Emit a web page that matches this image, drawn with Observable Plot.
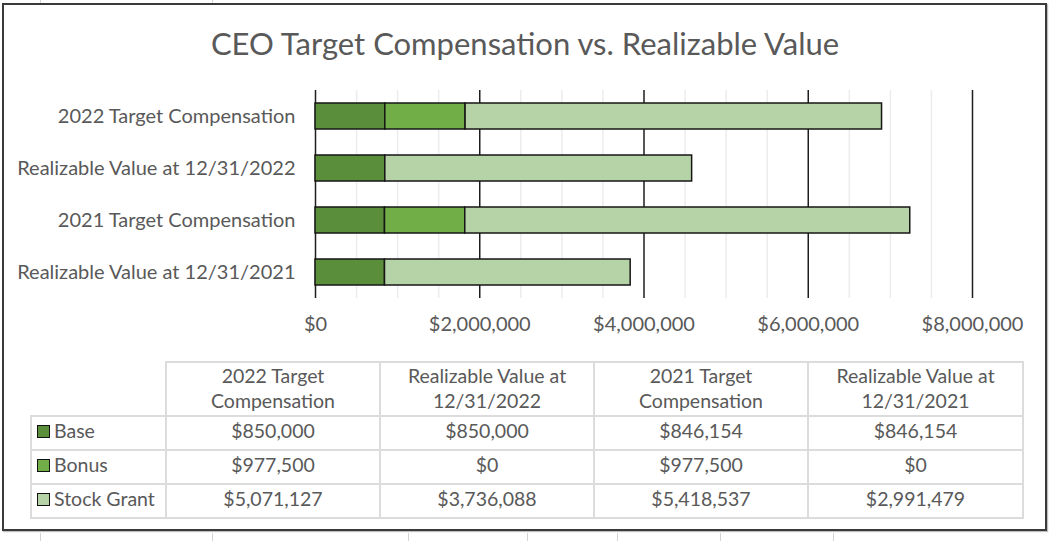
<!DOCTYPE html>
<html>
<head>
<meta charset="utf-8">
<script src="https://cdn.jsdelivr.net/npm/d3@7"></script>
<script src="https://cdn.jsdelivr.net/npm/@observablehq/plot@0.6"></script>
<style>
  html, body { margin: 0; padding: 0; background: #fff; }
  #wrap { position: relative; width: 1050px; height: 541px; overflow: hidden; font-family: Lato, "Open Sans", sans-serif; color: #595959; }
  #frame { position: absolute; left: 2px; top: 3px; width: 1041px; height: 524px; border: 2px solid #3a3a3a; box-shadow: 1px 1px 1px rgba(0,0,0,0.25); }
  #title { position: absolute; left: 0; top: 24px; width: 1050px; text-align: center; font-size: 31px; color: #595959; }
  #chart { position: absolute; left: 0; top: 0; }
  #tbl { position: absolute; left: 30px; top: 361px; border-collapse: collapse; font-size: 19.5px; color: #595959; table-layout: fixed; }
  #tbl td, #tbl th { border: 2px solid #dcdcdc; padding: 0; text-align: center; font-weight: normal; white-space: nowrap; }
  #tbl th { height: 46px; line-height: 25px; padding-bottom: 2px; }
  #tbl td { height: 28px; line-height: 28px; padding-bottom: 4px; }
  #tbl td.rh { text-align: left; padding-left: 5px; }
  .key { display: inline-block; width: 11px; height: 11px; border: 1px solid #111; margin-right: 4px; vertical-align: 0px; }
  .tick { position: absolute; width: 1px; background: #d4d4d4; }
</style>
</head>
<body>
<div id="wrap">
  <div id="frame"></div>
  <div id="title"></div>
  <div id="chart"></div>
  <table id="tbl"></table>
</div>
<script>
// ---- data ----
const title = "CEO Target Compensation vs. Realizable Value";
const categories = ["2022 Target Compensation", "Realizable Value at 12/31/2022", "2021 Target Compensation", "Realizable Value at 12/31/2021"];
const headerLines = [["2022 Target", "Compensation"], ["Realizable Value at", "12/31/2022"], ["2021 Target", "Compensation"], ["Realizable Value at", "12/31/2021"]];
const seriesNames = ["Base", "Bonus", "Stock Grant"];
const seriesColors = ["#5b8e3a", "#72ae48", "#b6d3a7"];
const base = [850000, 850000, 846154, 846154];
const bonus = [977500, 0, 977500, 0];
const stockGrant = [5071127, 3736088, 5418537, 2991479];
const majorTicks = [0, 2000000, 4000000, 6000000, 8000000];
const minorTicks = [500000, 1000000, 1500000, 2500000, 3000000, 3500000, 4500000, 5000000, 5500000, 6500000, 7000000, 7500000];
const bgTicksTop = [40, 212];
const bgTicksBottom = [40, 212, 408, 527, 617, 720, 833];

// ---- build ----
document.getElementById("title").textContent = title;

const seriesValues = [base, bonus, stockGrant];
const rows = [];
seriesNames.forEach((s, si) => {
  categories.forEach((c, ci) => {
    rows.push({series: s, category: c, value: seriesValues[si][ci]});
  });
});

const fmt = d => "$" + d3.format(",")(d);

const chart = Plot.plot({
  width: 1050,
  height: 340,
  marginLeft: 315,
  marginRight: 78,
  marginTop: 90,
  marginBottom: 42,
  style: {fontFamily: "Lato, 'Open Sans', sans-serif", fontSize: "20px", color: "#595959", background: "transparent", overflow: "visible"},
  x: {domain: [0, 8000000], ticks: majorTicks, tickFormat: fmt, tickSize: 0, tickPadding: 18, label: null},
  y: {domain: categories, paddingInner: 0.5, paddingOuter: 0.25, tickSize: 0, tickPadding: 20, label: null},
  color: {domain: seriesNames, range: seriesColors},
  marks: [
    Plot.ruleX(minorTicks, {stroke: "#ececec", strokeWidth: 1.5}),
    Plot.ruleX(majorTicks, {stroke: "#1e1e1e", strokeWidth: 1.5}),
    Plot.barX(rows.filter(r => r.value > 0), {x: "value", y: "category", fill: "series", stroke: "#161616", strokeWidth: 1.5})
  ]
});
document.getElementById("chart").appendChild(chart);

// table
const tbl = document.getElementById("tbl");
const colW = [135, 214, 214, 214, 215];
const colgroup = document.createElement("colgroup");
colW.forEach(w => { const c = document.createElement("col"); c.style.width = w + "px"; colgroup.appendChild(c); });
tbl.appendChild(colgroup);
const hr = document.createElement("tr");
const corner = document.createElement("th");
corner.style.borderTop = "none"; corner.style.borderLeft = "none";
hr.appendChild(corner);
headerLines.forEach(lines => {
  const th = document.createElement("th");
  th.innerHTML = lines.map(l => l.replace(/&/g, "&amp;")).join("<br>");
  hr.appendChild(th);
});
tbl.appendChild(hr);
seriesNames.forEach((s, si) => {
  const tr = document.createElement("tr");
  const rh = document.createElement("td");
  rh.className = "rh";
  const key = document.createElement("span");
  key.className = "key";
  key.style.background = seriesColors[si];
  rh.appendChild(key);
  rh.appendChild(document.createTextNode(s));
  tr.appendChild(rh);
  seriesValues[si].forEach(v => {
    const td = document.createElement("td");
    td.textContent = fmt(v);
    tr.appendChild(td);
  });
  tbl.appendChild(tr);
});

// faint spreadsheet cell lines outside the frame
const wrap = document.getElementById("wrap");
bgTicksTop.forEach(x => { const d = document.createElement("div"); d.className = "tick"; d.style.left = x + "px"; d.style.top = "0px"; d.style.height = "3px"; wrap.appendChild(d); });
bgTicksBottom.forEach(x => { const d = document.createElement("div"); d.className = "tick"; d.style.left = x + "px"; d.style.top = "533px"; d.style.height = "8px"; wrap.appendChild(d); });
</script>
</body>
</html>
